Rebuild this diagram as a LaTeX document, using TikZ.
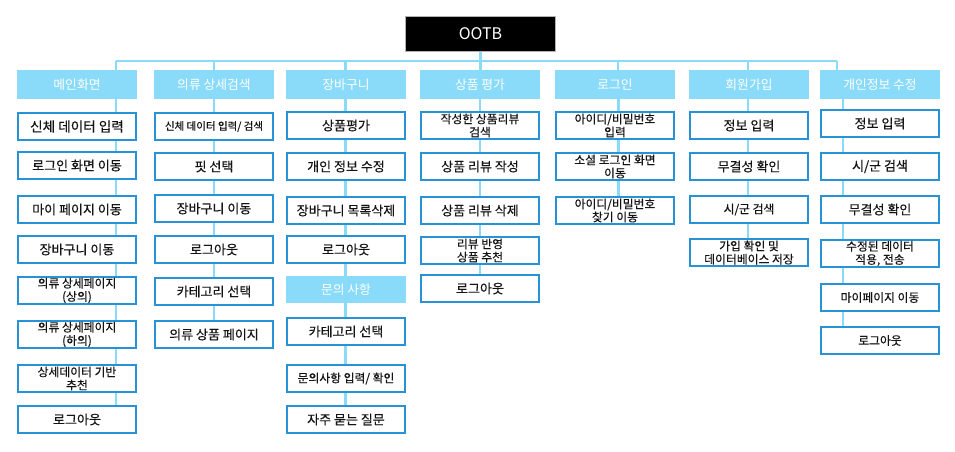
\documentclass[tikz,border=0pt]{standalone}
\usepackage{fontspec}
\setmainfont{Noto Sans CJK KR}
\newfontfamily\boxfont{Noto Sans CJK KR}[FakeBold=0.4]
\usetikzlibrary{backgrounds}
\definecolor{boxblue}{RGB}{40,146,214}
\definecolor{lightblue}{RGB}{138,218,250}
\definecolor{txt}{RGB}{20,20,20}
\tikzset{
  box/.style={draw=boxblue, line width=2pt, fill=white, minimum width=118pt, minimum height=27pt, inner sep=0pt, align=center, text=txt},
  hdr/.style={fill=lightblue, minimum width=120pt, minimum height=29pt, inner sep=0pt, text=white, font=\fontsize{12.8}{14}\selectfont},
  conn/.style={draw=lightblue, line width=2.2pt},
  fa/.style={font=\boxfont\fontsize{13.6}{16}\selectfont},
  fb/.style={font=\boxfont\fontsize{13}{15}\selectfont},
  fc/.style={font=\boxfont\fontsize{11.8}{13.2}\selectfont},
  fd/.style={font=\boxfont\fontsize{10.5}{12}\selectfont},
}
\begin{document}
\begin{tikzpicture}[x=1pt,y=-1pt]
\useasboundingbox (0,0) rectangle (955,451);
% root
\node[fill=black, draw=gray!60, line width=0.8pt, minimum width=150pt, minimum height=35pt, text=white, font=\fontsize{16}{18}\selectfont] (root) at (480.5,34) {OOTB};
% headers
\node[hdr] (h1) at (77,84.5) {메인화면};
\node[hdr] (h2) at (214,84.5) {의류 상세검색};
\node[hdr] (h3) at (346,84.5) {장바구니};
\node[hdr] (h4) at (480,84.5) {상품 평가};
\node[hdr] (h5) at (615,84.5) {로그인};
\node[hdr] (h6) at (749,84.5) {회원가입};
\node[hdr] (h7) at (880,84.5) {개인정보 수정};
% column 1
\node[box,fa] (a1) at (77,126.5) {신체 데이터 입력};
\node[box,fb] (a2) at (77,165.5) {로그인 화면 이동};
\node[box,fb] (a3) at (77,209.5) {마이 페이지 이동};
\node[box,fb] (a4) at (77,249.5) {장바구니 이동};
\node[box,fc] (a5) at (77,290.5) {의류 상세페이지\\(상의)};
\node[box,fc] (a6) at (77,334.5) {의류 상세페이지\\(하의)};
\node[box,fc] (a7) at (77,378.5) {상세데이터 기반\\추천};
\node[box,fb] (a8) at (77,419.5) {로그아웃};
% column 2
\node[box,fd] (b1) at (214,126.5) {신체 데이터 입력/ 검색};
\node[box,fb] (b2) at (214,166.5) {핏 선택};
\node[box,fb] (b3) at (214,208.5) {장바구니 이동};
\node[box,fb] (b4) at (214,249.5) {로그아웃};
\node[box,fb] (b5) at (214,291.5) {카테고리 선택};
\node[box,fb] (b6) at (214,334.5) {의류 상품 페이지};
% column 3
\node[box,fb] (c1) at (346,125.5) {상품평가};
\node[box,fb] (c2) at (346,166.5) {개인 정보 수정};
\node[box,fb] (c3) at (346,210.5) {장바구니 목록삭제};
\node[box,fb] (c4) at (346,249.5) {로그아웃};
\node[hdr, minimum height=27pt] (h3b) at (346,289.5) {문의 사항};
\node[box,fb] (c5) at (346,331.5) {카테고리 선택};
\node[box,fc] (c6) at (346,378.5) {문의사항 입력/ 확인};
\node[box,fb] (c7) at (346,419.5) {자주 묻는 질문};
% column 4
\node[box,fc] (d1) at (480,125.5) {작성한 상품리뷰\\검색};
\node[box,fb] (d2) at (480,166.5) {상품 리뷰 작성};
\node[box,fb] (d3) at (480,210.5) {상품 리뷰 삭제};
\node[box,fc] (d4) at (480,250.5) {리뷰 반영\\상품 추천};
\node[box,fb] (d5) at (480,288.5) {로그아웃};
% column 5
\node[box,fc] (e1) at (615,125.5) {아이디/비밀번호\\입력};
\node[box,fc] (e2) at (615,166.5) {소셜 로그인 화면\\이동};
\node[box,fc] (e3) at (615,210.5) {아이디/비밀번호\\찾기 이동};
% column 6
\node[box,fb] (f1) at (749,125.5) {정보 입력};
\node[box,fb] (f2) at (749,166.5) {무결성 확인};
\node[box,fc] (f3) at (749,209.5) {시/군 검색};
\node[box,fc] (f4) at (749,252.5) {가입 확인 및\\데이터베이스 저장};
% column 7
\node[box,fb] (g1) at (880,123.5) {정보 입력};
\node[box,fb] (g2) at (880,166.5) {시/군 검색};
\node[box,fb] (g3) at (880,209.5) {무결성 확인};
\node[box,fc] (g4) at (880,253.5) {수정된 데이터\\적용, 전송};
\node[box,fc] (g5) at (880,297.5) {마이페이지 이동};
\node[box,fc] (g6) at (880,340.5) {로그아웃};
% connector coordinates
\coordinate (t1) at (116,61);
\coordinate (t2) at (214,61);
\coordinate (t3) at (345.5,61);
\coordinate (t4) at (480.5,61);
\coordinate (t5) at (618,61);
\coordinate (t6) at (748,61);
\coordinate (t7) at (837,61);
\coordinate (x1) at (116,0);
\coordinate (x2) at (214,0);
\coordinate (x3) at (345.5,0);
\coordinate (x4) at (480,0);
\coordinate (x5) at (618.5,0);
\coordinate (x6) at (748,0);
\coordinate (x7) at (843,0);
\begin{scope}[on background layer]
\fill[white] (0,0) rectangle (955,451);
\draw[conn] (root.south -| t4) -- (t4);
\draw[conn] (t1) -- (t7);
\foreach \t/\h in {t1/h1,t2/h2,t3/h3,t4/h4,t5/h5,t6/h6,t7/h7}
  \draw[conn] (\t) -- (\h.north -| \t);
\foreach \p/\q in {h1/a1,a1/a2,a2/a3,a3/a4,a4/a5,a5/a6,a6/a7,a7/a8}
  \draw[conn] (\p.south -| x1) -- (\q.north -| x1);
\foreach \p/\q in {h2/b1,b1/b2,b2/b3,b3/b4,b4/b5,b5/b6}
  \draw[conn] (\p.south -| x2) -- (\q.north -| x2);
\foreach \p/\q in {h3/c1,c1/c2,c2/c3,c3/c4,c4/h3b,h3b/c5,c5/c6,c6/c7}
  \draw[conn] (\p.south -| x3) -- (\q.north -| x3);
\foreach \p/\q in {h4/d1,d1/d2,d2/d3,d3/d4,d4/d5}
  \draw[conn] (\p.south -| x4) -- (\q.north -| x4);
\foreach \p/\q in {h5/e1,e1/e2,e2/e3}
  \draw[conn] (\p.south -| x5) -- (\q.north -| x5);
\foreach \p/\q in {h6/f1,f1/f2,f2/f3,f3/f4}
  \draw[conn] (\p.south -| x6) -- (\q.north -| x6);
\foreach \p/\q in {h7/g1,g1/g2,g2/g3,g3/g4,g4/g5,g5/g6}
  \draw[conn] (\p.south -| x7) -- (\q.north -| x7);
\end{scope}
\end{tikzpicture}
\end{document}
